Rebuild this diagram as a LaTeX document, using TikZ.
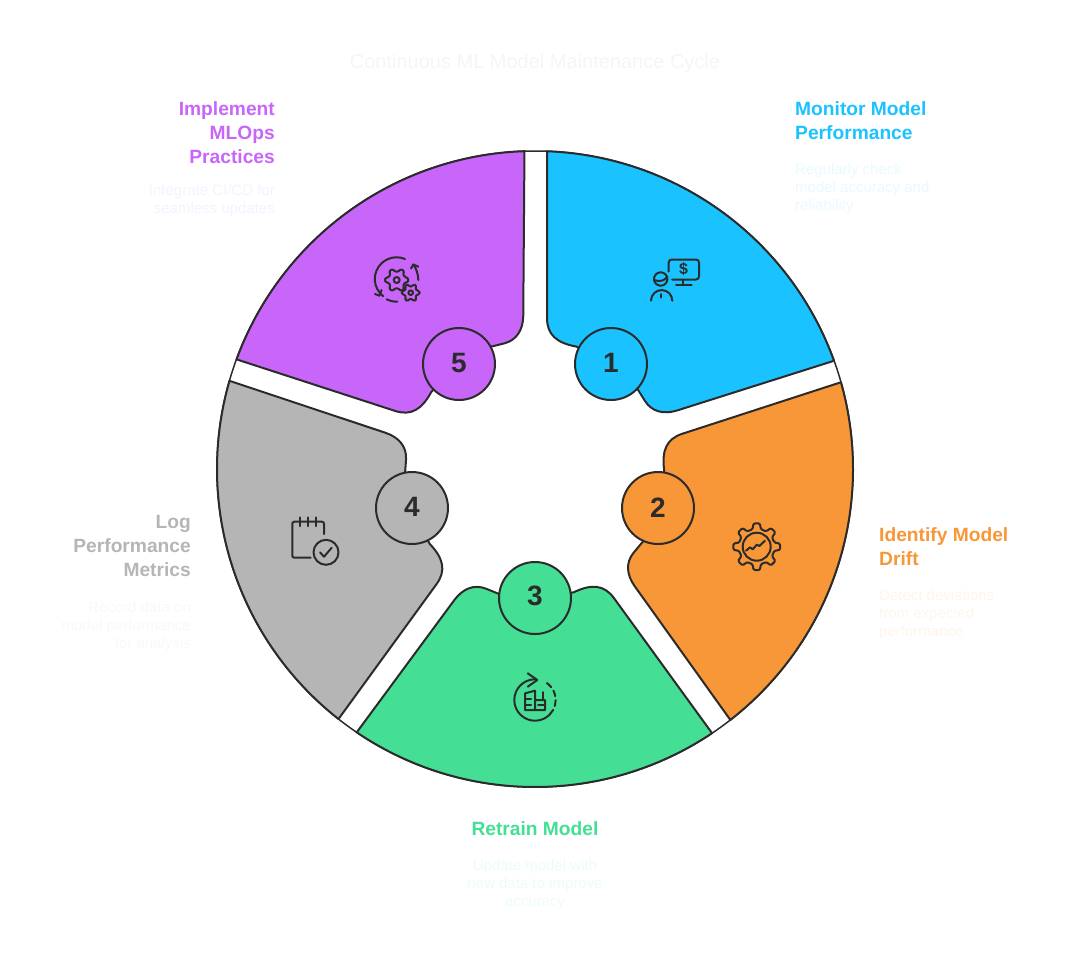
\documentclass[tikz,border=0pt]{standalone}
\usepackage{fontspec}
\setmainfont{Liberation Sans}
\usepackage{xcolor}
\definecolor{colorMonitor}{HTML}{1AC3FF}
\definecolor{colorDrift}{HTML}{F79738}
\definecolor{colorRetrain}{HTML}{44DF95}
\definecolor{colorLog}{HTML}{B5B5B5}
\definecolor{colorMLOps}{HTML}{C766F9}
\definecolor{colorLine}{HTML}{2B2B2B}
\usetikzlibrary{positioning}
\tikzset{
  petal/.style={shift={(535,469)}, y=1pt, rotate=#1, draw=colorLine, line width=2pt, line join=round},
  badge/.style={circle, draw=colorLine, line width=2pt, minimum size=72pt, inner sep=0pt, text=colorLine, font=\fontsize{28}{28}\selectfont\bfseries},
  heading/.style={inner sep=0pt, font=\fontsize{19.2}{24}\selectfont\bfseries},
  detail/.style={inner sep=0pt, font=\fontsize{15}{18}\selectfont},
  iconline/.style={draw=colorLine, line width=2pt, line cap=round, line join=round}
}
\newcommand{\petalPath}{(87.83:318) arc[start angle=87.83, end angle=19.9, radius=318pt] -- (142,58.5) .. controls (129,54.5) and (117,57) .. (110,68) -- (90,100) -- (41,122.5) .. controls (22,126) and (12,134) .. (12,151) -- cycle}
\newcommand{\gearIcon}[5]{\draw[iconline, shift={(#1,#2)}, rounded corners=1.2pt] ({-0.3*360/#3}:#5) \foreach \i in {1,...,#3} { -- ({(\i-1-0.3)*360/#3}:#5) -- ({(\i-1-0.17)*360/#3}:#4) -- ({(\i-1+0.17)*360/#3}:#4) -- ({(\i-1+0.3)*360/#3}:#5) } -- cycle;}

\begin{document}
\begin{tikzpicture}[x=1pt, y=-1pt]
\useasboundingbox (0,0) rectangle (1070,962);
\node[inner sep=0pt, text=black!4, font=\fontsize{20}{24}\selectfont] (title) at (535,63) {Continuous ML Model Maintenance Cycle};
% rim
\node[circle, draw=colorLine, line width=1.5pt, minimum size=636pt, inner sep=0pt] (rim) at (535,469) {};
% petals
\draw[petal=0, fill=colorMonitor] \petalPath;
\draw[petal=-72, fill=colorDrift] \petalPath;
\draw[petal=-144, fill=colorRetrain] \petalPath;
\draw[petal=-216, fill=colorLog] \petalPath;
\draw[petal=-288, fill=colorMLOps] \petalPath;
% badges
\node[badge, fill=colorMonitor] (badge1) at (611,364) {\raisebox{1.5pt}{1}};
\node[badge, fill=colorDrift] (badge2) at (658,508) {\raisebox{1.5pt}{2}};
\node[badge, fill=colorRetrain] (badge3) at (535,598) {\raisebox{5pt}{3}};
\node[badge, fill=colorLog] (badge4) at (412,508) {\raisebox{1.5pt}{4}};
\node[badge, fill=colorMLOps] (badge5) at (459,364) {\raisebox{1.5pt}{5}};
% monitor icon
\draw[iconline] (668.7,271.7) -- (668.7,262.5) arc[start angle=180, end angle=90, radius=3pt] -- (696,259.5) arc[start angle=90, end angle=0, radius=3pt] -- (699,276.5) arc[start angle=0, end angle=-90, radius=3pt] -- (672,279.5);
\draw[iconline] (683.3,279.5) -- (683.3,285.3) (676,285.3) -- (691.7,285.3);
\node[inner sep=0pt, text=colorLine, font=\fontsize{16}{16}\selectfont\bfseries] (dollar) at (683.5,269.5) {\$};
\node[circle, iconline, minimum size=13.4pt, inner sep=0pt] (head) at (660.7,279) {};
\draw[iconline] (654,280) .. controls (660,282) and (664,281) .. (667.3,276.7);
\draw[iconline] (651,300.7) arc[start angle=180, end angle=0, radius=10.65pt];
\draw[iconline] (661.3,294) -- (661.3,297.5);
% drift icon
\gearIcon{756.7}{546.7}{8}{23.5}{18}
\node[circle, iconline, minimum size=28pt, inner sep=0pt] (dial) at (756.7,546.7) {};
\draw[iconline] (746,550.7) -- (750,547.3) -- (752.7,549.3) -- (756.7,544.7) -- (759.3,546) -- (765,540.7);
% retrain icon
\draw[iconline] (535,679.3) arc[start angle=90, end angle=315, radius=20.7pt];
\draw[iconline, dash pattern=on 6pt off 4pt] (549.6,714.6) arc[start angle=-45, end angle=62, radius=20.7pt];
\draw[iconline] (527.7,673.3) -- (537.3,680) -- (527.7,686.7);
\draw[iconline] (525,693.3) -- (535,690.7) -- (535,710) (525,693.3) -- (525,710) -- (545,710) -- (545,700) -- (535,700);
\draw[iconline] (543,692) -- (543,700) (525,699) -- (531,699) (525,705) -- (531,705) (538,705) -- (545,705);
% log icon
\draw[iconline] (324,534) -- (324,523.7) arc[start angle=0, end angle=90, radius=2pt] -- (294.3,521.7) arc[start angle=90, end angle=180, radius=2pt] -- (292.3,555.7) arc[start angle=180, end angle=270, radius=2pt] -- (310.7,557.7);
\draw[iconline] (300,517.3) -- (300,526) (307.7,517.3) -- (307.7,526) (315.7,517.3) -- (315.7,526);
\node[circle, iconline, minimum size=25pt, inner sep=0pt] (check) at (326,552.3) {};
\draw[iconline] (320,552.3) -- (324,556.7) -- (331.7,547.7);
% mlops icon
\gearIcon{396.7}{280}{6}{11.7}{8.5}
\gearIcon{410.7}{292.7}{6}{9}{6.3}
\node[circle, iconline, minimum size=6pt, inner sep=0pt] (hubA) at (396.7,280) {};
\node[circle, iconline, minimum size=4.6pt, inner sep=0pt] (hubB) at (410.7,292.7) {};
\draw[iconline] (405,259) arc[start angle=67, end angle=232, radius=21.7pt];
\draw[iconline] (375,294) -- (379.5,295.7) -- (381.5,290);
\draw[iconline] (418.3,280) .. controls (418.3,274) and (416,268) .. (413.3,264.5);
\draw[iconline] (411,268.5) -- (413.3,264.5) -- (418.3,266.7);
\draw[iconline] (386.7,299.3) .. controls (390,301) and (394,301.7) .. (397.3,301.7);
% texts
\node[heading, text=colorMonitor, align=left, anchor=north west] (headMonitor) at (795,101.5) {Monitor Model\\Performance};
\node[detail, text=colorMonitor!10, align=left, anchor=north west] (textMonitor) at (795,163) {Regularly check\\model accuracy and\\reliability};
\node[heading, text=colorDrift, align=left, anchor=north west] (headDrift) at (879,527.5) {Identify Model\\Drift};
\node[detail, text=colorDrift!10, align=left, anchor=north west] (textDrift) at (879,589) {Detect deviations\\from expected\\performance};
\node[heading, text=colorRetrain, align=center, anchor=north] (headRetrain) at (535,821.5) {Retrain Model};
\node[detail, text=colorRetrain!10, align=center, anchor=north] (textRetrain) at (535,859) {Update model with\\new data to improve\\accuracy};
\node[heading, text=colorLog, align=right, anchor=north east] (headLog) at (191,515.5) {Log\\Performance\\Metrics};
\node[detail, text=colorLog!10, align=right, anchor=north east] (textLog) at (191,601) {Record data on\\model performance\\for analysis};
\node[heading, text=colorMLOps, align=right, anchor=north east] (headMLOps) at (275,101.5) {Implement\\MLOps\\Practices};
\node[detail, text=colorMLOps!10, align=right, anchor=north east] (textMLOps) at (275,184) {Integrate CI/CD for\\seamless updates};
\end{tikzpicture}
\end{document}
